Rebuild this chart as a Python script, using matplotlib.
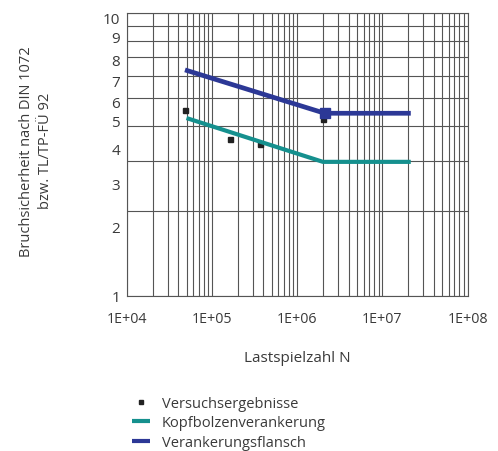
import matplotlib
matplotlib.use("Agg")
import matplotlib.pyplot as plt
from matplotlib.ticker import FixedLocator, NullFormatter, LogLocator
from matplotlib.transforms import ScaledTranslation

# Data
test_n = [4.8e4, 1.6e5, 3.6e5, 2.0e6]
test_s = [4.55, 3.6, 3.46, 4.23]

kopf_n = [5.0e4, 2.0e6, 2.15e7]
kopf_s = [4.26, 2.98, 2.98]

flansch_n = [4.8e4, 2.1e6, 2.15e7]
flansch_s = [6.31, 4.43, 4.43]

corner_n = [2.1e6]
corner_s = [4.43]

x_ticks = [1e4, 1e5, 1e6, 1e7, 1e8]
x_labels = ["1E+04", "1E+05", "1E+06", "1E+07", "1E+08"]
y_ticks = [1, 2, 3, 4, 5, 6, 7, 8, 9, 10]
y_labels = ["1", "2", "3", "4", "5", "6", "7", "8", "9", "10"]

# downward shift of each y tick label (in points), as typeset in the reference
y_label_shift = [0, 11.5, 16.5, 16.5, 16, 18, 16.5, 13.5, 7.5, 3]

teal = "#15908e"
blue = "#2c3896"
txt = "#3a3a3a"
gridc = "#555555"

plt.rcParams['font.family'] = ['Open Sans', 'DejaVu Sans']

fig = plt.figure(figsize=(4.98, 4.52), dpi=100)
fig.patch.set_facecolor("white")
ax = fig.add_axes([0.255, 0.3436, 0.684, 0.6244])
ax.set_xscale("log")
ax.set_yscale("log")
ax.set_xlim(1e4, 1e8)
ax.set_ylim(1, 10)

ax.xaxis.set_major_locator(FixedLocator(x_ticks))
ax.set_xticklabels(x_labels)
ax.xaxis.set_minor_locator(LogLocator(base=10, subs=range(2, 10), numticks=20))
ax.xaxis.set_minor_formatter(NullFormatter())
ax.yaxis.set_major_locator(FixedLocator(y_ticks))
ax.set_yticklabels(y_labels)
ax.yaxis.set_minor_locator(FixedLocator([]))

ax.grid(True, which="both", axis="x", color=gridc, lw=0.8)
ax.grid(True, which="major", axis="y", color=gridc, lw=0.8)
ax.set_axisbelow(True)
for s in ax.spines.values():
    s.set_color(gridc)
    s.set_linewidth(0.8)

ax.tick_params(axis="x", which="both", length=0, colors=txt, labelsize=10.3, pad=11)
ax.tick_params(axis="y", which="both", length=0, colors=txt, labelsize=11, pad=5)

for lab, sh in zip(ax.get_yticklabels(), y_label_shift):
    lab.set_transform(lab.get_transform() + ScaledTranslation(0, -sh / 72, fig.dpi_scale_trans))

ax.plot(test_n, test_s, linestyle="none", marker="s", ms=3.6, color="#222222",
        label="Versuchsergebnisse", zorder=2)
ax.plot(kopf_n, kopf_s, color=teal, lw=3.0, solid_capstyle="butt",
        label="Kopfbolzenverankerung", zorder=3)
ax.plot(flansch_n, flansch_s, color=blue, lw=3.4, solid_capstyle="butt",
        label="Verankerungsflansch", zorder=3)
ax.plot(corner_n, corner_s, linestyle="none", marker="s", ms=7, color=blue, zorder=4)

ax.set_xlabel("Lastspielzahl N", color=txt, fontsize=11, labelpad=17.5)
ax.set_ylabel("Bruchsicherheit nach DIN 1072\nbzw. TL/TP-FÜ 92", color=txt,
              fontsize=10.5, labelpad=36, linespacing=1.3)
ax.yaxis.label.set_y(0.515)

leg = fig.legend(loc="upper left", bbox_to_anchor=(0.2645, 0.1215), frameon=False,
                 fontsize=10.5, handlelength=1.25, handletextpad=0.8, labelspacing=0.3,
                 labelcolor=txt, borderaxespad=0, borderpad=0, markerscale=0.8)
for h in leg.legend_handles:
    if hasattr(h, "set_linewidth") and h.get_label() != "Versuchsergebnisse":
        h.set_linewidth(3.0)

fig.savefig("out.png", dpi=100, facecolor="white")
